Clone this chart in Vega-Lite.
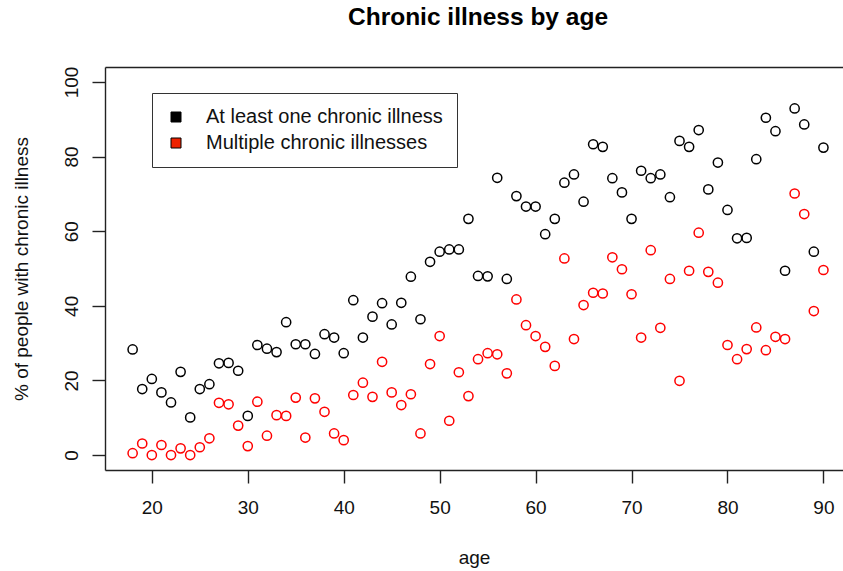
{
  "$schema": "https://vega.github.io/schema/vega-lite/v6.json",
  "width": 738,
  "height": 403,
  "autosize": {"type": "none"},
  "padding": {"left": 105, "top": 67, "right": 0, "bottom": 101},
  "background": "white",
  "title": {"text": "Chronic illness by age", "fontSize": 24.5, "font": "Liberation Sans", "fontWeight": "bold", "color": "#000000", "anchor": "middle", "dx": 4, "offset": 36},
  "config": {
    "view": {"stroke": null},
    "axis": {"grid": false, "labelFont": "Liberation Sans", "titleFont": "Liberation Sans", "labelFontSize": 19, "titleFontSize": 19, "labelColor": "#111111", "titleColor": "#111111", "titleFontWeight": "normal", "tickColor": "#222222", "domainColor": "#222222", "tickWidth": 1.4, "domainWidth": 1.4}
  },
  "datasets": {
    "pts": [
      {"age": 18, "pct": 28.3, "series": "At least one chronic illness"},
      {"age": 19, "pct": 17.7, "series": "At least one chronic illness"},
      {"age": 20, "pct": 20.4, "series": "At least one chronic illness"},
      {"age": 21, "pct": 16.8, "series": "At least one chronic illness"},
      {"age": 22, "pct": 14.1, "series": "At least one chronic illness"},
      {"age": 23, "pct": 22.3, "series": "At least one chronic illness"},
      {"age": 24, "pct": 10.1, "series": "At least one chronic illness"},
      {"age": 25, "pct": 17.7, "series": "At least one chronic illness"},
      {"age": 26, "pct": 19.0, "series": "At least one chronic illness"},
      {"age": 27, "pct": 24.6, "series": "At least one chronic illness"},
      {"age": 28, "pct": 24.7, "series": "At least one chronic illness"},
      {"age": 29, "pct": 22.6, "series": "At least one chronic illness"},
      {"age": 30, "pct": 10.5, "series": "At least one chronic illness"},
      {"age": 31, "pct": 29.5, "series": "At least one chronic illness"},
      {"age": 32, "pct": 28.5, "series": "At least one chronic illness"},
      {"age": 33, "pct": 27.6, "series": "At least one chronic illness"},
      {"age": 34, "pct": 35.6, "series": "At least one chronic illness"},
      {"age": 35, "pct": 29.7, "series": "At least one chronic illness"},
      {"age": 36, "pct": 29.7, "series": "At least one chronic illness"},
      {"age": 37, "pct": 27.1, "series": "At least one chronic illness"},
      {"age": 38, "pct": 32.4, "series": "At least one chronic illness"},
      {"age": 39, "pct": 31.5, "series": "At least one chronic illness"},
      {"age": 40, "pct": 27.3, "series": "At least one chronic illness"},
      {"age": 41, "pct": 41.5, "series": "At least one chronic illness"},
      {"age": 42, "pct": 31.5, "series": "At least one chronic illness"},
      {"age": 43, "pct": 37.1, "series": "At least one chronic illness"},
      {"age": 44, "pct": 40.7, "series": "At least one chronic illness"},
      {"age": 45, "pct": 35.0, "series": "At least one chronic illness"},
      {"age": 46, "pct": 40.8, "series": "At least one chronic illness"},
      {"age": 47, "pct": 47.8, "series": "At least one chronic illness"},
      {"age": 48, "pct": 36.4, "series": "At least one chronic illness"},
      {"age": 49, "pct": 51.8, "series": "At least one chronic illness"},
      {"age": 50, "pct": 54.5, "series": "At least one chronic illness"},
      {"age": 51, "pct": 55.1, "series": "At least one chronic illness"},
      {"age": 52, "pct": 55.1, "series": "At least one chronic illness"},
      {"age": 53, "pct": 63.3, "series": "At least one chronic illness"},
      {"age": 54, "pct": 48.0, "series": "At least one chronic illness"},
      {"age": 55, "pct": 47.9, "series": "At least one chronic illness"},
      {"age": 56, "pct": 74.3, "series": "At least one chronic illness"},
      {"age": 57, "pct": 47.2, "series": "At least one chronic illness"},
      {"age": 58, "pct": 69.4, "series": "At least one chronic illness"},
      {"age": 59, "pct": 66.6, "series": "At least one chronic illness"},
      {"age": 60, "pct": 66.6, "series": "At least one chronic illness"},
      {"age": 61, "pct": 59.2, "series": "At least one chronic illness"},
      {"age": 62, "pct": 63.3, "series": "At least one chronic illness"},
      {"age": 63, "pct": 73.0, "series": "At least one chronic illness"},
      {"age": 64, "pct": 75.2, "series": "At least one chronic illness"},
      {"age": 65, "pct": 67.9, "series": "At least one chronic illness"},
      {"age": 66, "pct": 83.3, "series": "At least one chronic illness"},
      {"age": 67, "pct": 82.6, "series": "At least one chronic illness"},
      {"age": 68, "pct": 74.2, "series": "At least one chronic illness"},
      {"age": 69, "pct": 70.4, "series": "At least one chronic illness"},
      {"age": 70, "pct": 63.3, "series": "At least one chronic illness"},
      {"age": 71, "pct": 76.2, "series": "At least one chronic illness"},
      {"age": 72, "pct": 74.2, "series": "At least one chronic illness"},
      {"age": 73, "pct": 75.2, "series": "At least one chronic illness"},
      {"age": 74, "pct": 69.1, "series": "At least one chronic illness"},
      {"age": 75, "pct": 84.2, "series": "At least one chronic illness"},
      {"age": 76, "pct": 82.6, "series": "At least one chronic illness"},
      {"age": 77, "pct": 87.1, "series": "At least one chronic illness"},
      {"age": 78, "pct": 71.2, "series": "At least one chronic illness"},
      {"age": 79, "pct": 78.4, "series": "At least one chronic illness"},
      {"age": 80, "pct": 65.7, "series": "At least one chronic illness"},
      {"age": 81, "pct": 58.1, "series": "At least one chronic illness"},
      {"age": 82, "pct": 58.2, "series": "At least one chronic illness"},
      {"age": 83, "pct": 79.3, "series": "At least one chronic illness"},
      {"age": 84, "pct": 90.4, "series": "At least one chronic illness"},
      {"age": 85, "pct": 86.8, "series": "At least one chronic illness"},
      {"age": 86, "pct": 49.4, "series": "At least one chronic illness"},
      {"age": 87, "pct": 92.9, "series": "At least one chronic illness"},
      {"age": 88, "pct": 88.6, "series": "At least one chronic illness"},
      {"age": 89, "pct": 54.5, "series": "At least one chronic illness"},
      {"age": 90, "pct": 82.4, "series": "At least one chronic illness"},
      {"age": 18, "pct": 0.5, "series": "Multiple chronic illnesses"},
      {"age": 19, "pct": 3.1, "series": "Multiple chronic illnesses"},
      {"age": 20, "pct": 0.0, "series": "Multiple chronic illnesses"},
      {"age": 21, "pct": 2.7, "series": "Multiple chronic illnesses"},
      {"age": 22, "pct": 0.0, "series": "Multiple chronic illnesses"},
      {"age": 23, "pct": 1.8, "series": "Multiple chronic illnesses"},
      {"age": 24, "pct": 0.0, "series": "Multiple chronic illnesses"},
      {"age": 25, "pct": 2.1, "series": "Multiple chronic illnesses"},
      {"age": 26, "pct": 4.5, "series": "Multiple chronic illnesses"},
      {"age": 27, "pct": 14.0, "series": "Multiple chronic illnesses"},
      {"age": 28, "pct": 13.6, "series": "Multiple chronic illnesses"},
      {"age": 29, "pct": 7.9, "series": "Multiple chronic illnesses"},
      {"age": 30, "pct": 2.4, "series": "Multiple chronic illnesses"},
      {"age": 31, "pct": 14.3, "series": "Multiple chronic illnesses"},
      {"age": 32, "pct": 5.2, "series": "Multiple chronic illnesses"},
      {"age": 33, "pct": 10.7, "series": "Multiple chronic illnesses"},
      {"age": 34, "pct": 10.5, "series": "Multiple chronic illnesses"},
      {"age": 35, "pct": 15.4, "series": "Multiple chronic illnesses"},
      {"age": 36, "pct": 4.7, "series": "Multiple chronic illnesses"},
      {"age": 37, "pct": 15.2, "series": "Multiple chronic illnesses"},
      {"age": 38, "pct": 11.6, "series": "Multiple chronic illnesses"},
      {"age": 39, "pct": 5.8, "series": "Multiple chronic illnesses"},
      {"age": 40, "pct": 4.0, "series": "Multiple chronic illnesses"},
      {"age": 41, "pct": 16.1, "series": "Multiple chronic illnesses"},
      {"age": 42, "pct": 19.4, "series": "Multiple chronic illnesses"},
      {"age": 43, "pct": 15.6, "series": "Multiple chronic illnesses"},
      {"age": 44, "pct": 25.0, "series": "Multiple chronic illnesses"},
      {"age": 45, "pct": 16.8, "series": "Multiple chronic illnesses"},
      {"age": 46, "pct": 13.4, "series": "Multiple chronic illnesses"},
      {"age": 47, "pct": 16.3, "series": "Multiple chronic illnesses"},
      {"age": 48, "pct": 5.8, "series": "Multiple chronic illnesses"},
      {"age": 49, "pct": 24.4, "series": "Multiple chronic illnesses"},
      {"age": 50, "pct": 31.9, "series": "Multiple chronic illnesses"},
      {"age": 51, "pct": 9.2, "series": "Multiple chronic illnesses"},
      {"age": 52, "pct": 22.2, "series": "Multiple chronic illnesses"},
      {"age": 53, "pct": 15.8, "series": "Multiple chronic illnesses"},
      {"age": 54, "pct": 25.7, "series": "Multiple chronic illnesses"},
      {"age": 55, "pct": 27.3, "series": "Multiple chronic illnesses"},
      {"age": 56, "pct": 27.0, "series": "Multiple chronic illnesses"},
      {"age": 57, "pct": 21.9, "series": "Multiple chronic illnesses"},
      {"age": 58, "pct": 41.7, "series": "Multiple chronic illnesses"},
      {"age": 59, "pct": 34.8, "series": "Multiple chronic illnesses"},
      {"age": 60, "pct": 31.9, "series": "Multiple chronic illnesses"},
      {"age": 61, "pct": 29.0, "series": "Multiple chronic illnesses"},
      {"age": 62, "pct": 23.9, "series": "Multiple chronic illnesses"},
      {"age": 63, "pct": 52.7, "series": "Multiple chronic illnesses"},
      {"age": 64, "pct": 31.1, "series": "Multiple chronic illnesses"},
      {"age": 65, "pct": 40.2, "series": "Multiple chronic illnesses"},
      {"age": 66, "pct": 43.5, "series": "Multiple chronic illnesses"},
      {"age": 67, "pct": 43.3, "series": "Multiple chronic illnesses"},
      {"age": 68, "pct": 53.0, "series": "Multiple chronic illnesses"},
      {"age": 69, "pct": 49.8, "series": "Multiple chronic illnesses"},
      {"age": 70, "pct": 43.1, "series": "Multiple chronic illnesses"},
      {"age": 71, "pct": 31.5, "series": "Multiple chronic illnesses"},
      {"age": 72, "pct": 54.9, "series": "Multiple chronic illnesses"},
      {"age": 73, "pct": 34.1, "series": "Multiple chronic illnesses"},
      {"age": 74, "pct": 47.2, "series": "Multiple chronic illnesses"},
      {"age": 75, "pct": 19.9, "series": "Multiple chronic illnesses"},
      {"age": 76, "pct": 49.4, "series": "Multiple chronic illnesses"},
      {"age": 77, "pct": 59.6, "series": "Multiple chronic illnesses"},
      {"age": 78, "pct": 49.1, "series": "Multiple chronic illnesses"},
      {"age": 79, "pct": 46.2, "series": "Multiple chronic illnesses"},
      {"age": 80, "pct": 29.5, "series": "Multiple chronic illnesses"},
      {"age": 81, "pct": 25.7, "series": "Multiple chronic illnesses"},
      {"age": 82, "pct": 28.4, "series": "Multiple chronic illnesses"},
      {"age": 83, "pct": 34.2, "series": "Multiple chronic illnesses"},
      {"age": 84, "pct": 28.1, "series": "Multiple chronic illnesses"},
      {"age": 85, "pct": 31.7, "series": "Multiple chronic illnesses"},
      {"age": 86, "pct": 31.1, "series": "Multiple chronic illnesses"},
      {"age": 87, "pct": 70.1, "series": "Multiple chronic illnesses"},
      {"age": 88, "pct": 64.6, "series": "Multiple chronic illnesses"},
      {"age": 89, "pct": 38.6, "series": "Multiple chronic illnesses"},
      {"age": 90, "pct": 49.6, "series": "Multiple chronic illnesses"}
    ]
  },
  "data": {"name": "pts"},
  "layer": [
    {
      "mark": {"type": "point", "shape": "circle", "filled": false, "size": 85, "strokeWidth": 1.5, "opacity": 1},
      "encoding": {
        "x": {"field": "age", "type": "quantitative",
          "scale": {"domain": [15.12, 92.04], "nice": false, "zero": false},
          "axis": {"orient": "bottom", "values": [20, 30, 40, 50, 60, 70, 80, 90], "tickSize": 13, "labelPadding": 15, "labelFlush": false, "title": "age", "titlePadding": 31}},
        "y": {"field": "pct", "type": "quantitative",
          "scale": {"domain": [-4, 104], "nice": false, "zero": false},
          "axis": {"values": [0, 20, 40, 60, 80, 100], "tickSize": 13, "labelAngle": -90, "labelAlign": "center", "labelBaseline": "alphabetic", "labelPadding": 15, "labelFlush": false, "title": "% of people with chronic illness", "titlePadding": 31}},
        "color": {"field": "series", "type": "nominal",
          "scale": {"domain": ["At least one chronic illness", "Multiple chronic illnesses"], "range": ["#000000", "#ff0000"]},
          "legend": null}
      }
    },
    {
      "mark": {"type": "point", "shape": "square", "filled": true, "size": 100, "opacity": 0},
      "encoding": {
        "x": {"field": "age", "type": "quantitative",
          "scale": {"domain": [15.12, 92.04], "nice": false, "zero": false},
          "axis": {"orient": "top", "ticks": false, "labels": false, "title": null, "domain": true}},
        "y": {"field": "pct", "type": "quantitative", "scale": {"domain": [-4, 104], "nice": false, "zero": false}},
        "fill": {"field": "series", "type": "nominal",
          "scale": {"domain": ["Multiple chronic illnesses", "At least one chronic illness"], "range": ["#ee2200", "#000000"]},
          "legend": {"title": null, "values": ["At least one chronic illness", "Multiple chronic illnesses"], "orient": "none", "legendX": 47, "legendY": 26, "symbolType": "square", "symbolSize": 100, "symbolOpacity": 1, "symbolStrokeColor": "#000000", "symbolStrokeWidth": 1, "labelFontSize": 20, "labelFont": "Liberation Sans", "labelColor": "#111111", "labelLimit": 500, "strokeColor": "#333333", "fillColor": "white", "padding": 14, "symbolOffset": 0, "labelOffset": 20, "rowPadding": 6, "cornerRadius": 0}}
      }
    }
  ],
  "resolve": {"axis": {"x": "independent"}}
}
